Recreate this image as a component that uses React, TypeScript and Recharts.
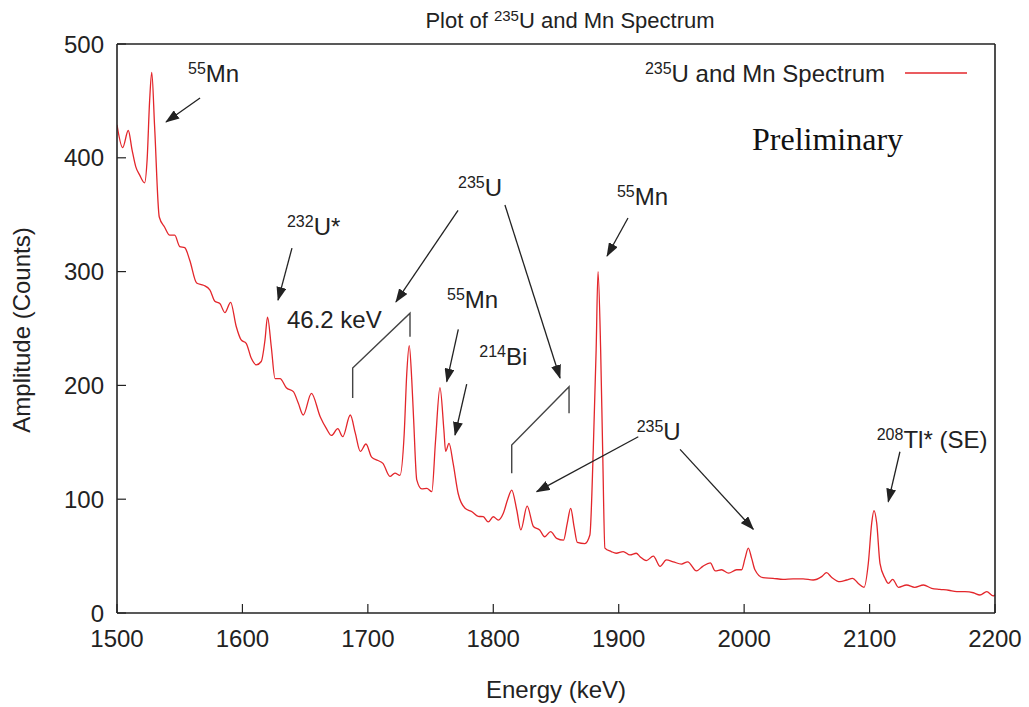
import React from "react";
import { LineChart, Line, XAxis, YAxis } from "recharts";

// spectrum readings (keV, counts)
const energy = [
  1500, 1504.5, 1509, 1512, 1515, 1518, 1522, 1524, 1526, 1527.7, 1530, 1533.7, 1538, 1542, 1546, 1550,
  1554, 1558, 1563.5, 1569, 1574, 1578, 1582, 1586, 1590.6, 1595, 1599, 1603, 1607, 1611, 1615, 1618,
  1620, 1623, 1626, 1630, 1635, 1640.6, 1644.5, 1648.5, 1655, 1662, 1667, 1671, 1676, 1680, 1686, 1690,
  1694, 1698.5, 1703, 1708, 1712, 1717.6, 1721.6, 1725.6, 1729, 1731, 1733, 1735, 1736.5, 1739, 1743, 1747,
  1751, 1754, 1757.5, 1760.6, 1762, 1764.7, 1768, 1772, 1777.5, 1783, 1788, 1792, 1796, 1800, 1804, 1808,
  1811.5, 1814.7, 1818.7, 1822, 1827, 1832, 1837, 1841, 1845.7, 1850.5, 1856, 1859, 1861.7, 1864.4, 1867, 1873,
  1877, 1879.7, 1882, 1883.5, 1885.6, 1887.2, 1889, 1894, 1898, 1903.6, 1909, 1914, 1917, 1922, 1927.6, 1933,
  1938, 1943.5, 1950, 1955, 1962, 1967, 1973, 1977, 1982, 1987.6, 1994, 1998, 2000.7, 2003.3, 2006, 2008.6,
  2015, 2023, 2031, 2039, 2047, 2055, 2061.8, 2065.7, 2069.7, 2076.4, 2081.7, 2086.5, 2091, 2095.6, 2099, 2101.7,
  2103.5, 2105.7, 2108.3, 2112.3, 2115, 2118.4, 2123, 2129.5, 2136, 2143, 2149.5, 2156, 2163, 2169.5, 2176, 2182.7,
  2188, 2193.4, 2198.6, 2200,
];
const counts = [
  429, 409, 424, 407, 392, 385, 378, 398, 450, 475, 427, 348, 339, 332, 332, 322,
  321, 310, 290, 288, 284, 274, 272, 264, 273, 252, 240, 237, 224, 218, 221, 240,
  260, 234, 206, 206, 198, 194.5, 184.5, 174, 193, 172.5, 162, 156, 162, 155, 174, 158,
  142, 148.5, 137, 134, 131.5, 120, 123, 121, 158, 210, 235, 205, 170, 117, 109, 109.5,
  106.6, 152, 198, 161, 142, 149, 131.5, 105, 92, 89, 85, 84.6, 80, 84.6, 81.7, 87.6,
  100, 108, 90.5, 73, 94, 76, 73, 67, 71.5, 65.6, 64, 79, 92, 76, 62, 61,
  68.5, 143, 231, 300, 231, 143, 57, 54, 52.5, 54, 51, 52.5, 49.5, 46, 50, 41,
  46.6, 45, 43, 45, 37, 41, 44, 37, 38, 35, 38, 38, 48, 57, 48, 38,
  31, 30.5, 29.6, 30, 30, 29, 32, 35.4, 31.4, 27.5, 29, 30.5, 26, 22.6, 43.7, 79,
  90, 79, 43.7, 30.5, 26, 29.6, 22.6, 24.6, 22.6, 24.6, 21.7, 20.8, 20, 18.7, 18.7, 17.8,
  15.8, 18.7, 15, 16,
];

const xTicks = [1500, 1600, 1700, 1800, 1900, 2000, 2100, 2200];
const yTicks = [0, 100, 200, 300, 400, 500];

// annotation labels: superscript, text, anchor in data coords (left edge, baseline)
const labels = [
  { sup: "55", text: "Mn", e: 1556.6, c: 466.6 },
  { sup: "232", text: "U*", e: 1635.5, c: 332.2 },
  { sup: "", text: "46.2 keV", e: 1635.5, c: 250.4 },
  { sup: "235", text: "U", e: 1771.9, c: 366.4 },
  { sup: "55", text: "Mn", e: 1763.1, c: 268 },
  { sup: "214", text: "Bi", e: 1788.8, c: 217.9 },
  { sup: "55", text: "Mn", e: 1898.6, c: 358.5 },
  { sup: "235", text: "U", e: 1914.3, c: 152 },
  { sup: "208", text: "Tl* (SE)", e: 2105.7, c: 144.7 },
];

const arrows = [
  [1566.2, 452.6, 1539.1, 431.5],
  [1639.5, 320.7, 1628.4, 275.0],
  [1771.9, 353.9, 1722.4, 273.3],
  [1809.3, 358.5, 1853.2, 206.5],
  [1772.1, 249.3, 1762.9, 203.3],
  [1778.8, 201.2, 1769.5, 156.4],
  [1907.4, 347.1, 1890.7, 313.7],
  [1915.6, 154.9, 1834.6, 106.6],
  [1948.9, 143.8, 2007.3, 73.6],
  [2124.2, 141.7, 2114.9, 97.8],
];

const brackets = [
  [[1687.9, 188.9], [1687.9, 215.3], [1733.6, 263.4], [1733.6, 242.8]],
  [[1814.7, 122.8], [1814.7, 147.6], [1860.4, 198.9], [1860.4, 175.5]],
];

const W = 1029;
const H = 707;
const plot = { left: 117, top: 44, right: 995, bottom: 613 };
const FONT = "'Liberation Sans', Arial, Helvetica, sans-serif";
const INK = "#222";
const RED = "#e3262b";

const px = (e: number) => plot.left + ((e - 1500) / 700) * (plot.right - plot.left);
const py = (c: number) => plot.bottom - (c / 500) * (plot.bottom - plot.top);

const data = energy.map((e, i) => ({ energy: e, counts: counts[i] }));

function Overlay() {
  return (
    <svg width={W} height={H} style={{ position: "absolute", left: 0, top: 0, pointerEvents: "none" }}>
      <defs>
        <marker id="ah" markerWidth="14" markerHeight="10" refX="13" refY="5" orient="auto" markerUnits="userSpaceOnUse">
          <path d="M0,0 L14,5 L0,10 z" fill={INK} />
        </marker>
      </defs>

      <text x={570} y={28} textAnchor="middle" fontFamily={FONT} fontSize={22} fill={INK}>
        Plot of <tspan fontSize={15} dy={-7}>235</tspan>
        <tspan dy={7}>U and Mn Spectrum</tspan>
      </text>

      {/* legend */}
      <text x={885} y={82} textAnchor="end" fontFamily={FONT} fontSize={24} fill={INK}>
        <tspan fontSize={16} dy={-8}>235</tspan>
        <tspan dy={8}>U and Mn Spectrum</tspan>
      </text>
      <line x1={905} x2={967} y1={73} y2={73} stroke={RED} strokeWidth={1.4} />

      <text x={752} y={150} fontFamily="'Liberation Serif', 'Times New Roman', serif" fontSize={32} fill="#111">
        Preliminary
      </text>

      {labels.map((l, i) => (
        <text key={i} x={px(l.e)} y={py(l.c)} fontFamily={FONT} fontSize={24} fill={INK}>
          {l.sup ? (
            <>
              <tspan fontSize={16} dy={-8}>{l.sup}</tspan>
              <tspan dy={8}>{l.text}</tspan>
            </>
          ) : (
            l.text
          )}
        </text>
      ))}

      {arrows.map((a, i) => (
        <line key={i} x1={px(a[0])} y1={py(a[1])} x2={px(a[2])} y2={py(a[3])} stroke={INK} strokeWidth={1.3} markerEnd="url(#ah)" />
      ))}

      {brackets.map((b, i) => (
        <polyline key={i} points={b.map((p) => `${px(p[0])},${py(p[1])}`).join(" ")} fill="none" stroke="#444" strokeWidth={1.4} />
      ))}

      <text x={556} y={698} textAnchor="middle" fontFamily={FONT} fontSize={24} fill={INK}>
        Energy (keV)
      </text>
      <text
        x={0}
        y={0}
        transform="translate(30,330) rotate(-90)"
        textAnchor="middle"
        fontFamily={FONT}
        fontSize={24}
        fill={INK}
      >
        Amplitude (Counts)
      </text>
    </svg>
  );
}

export default function App() {
  const tickStyle = { fontSize: 24, fill: INK, fontFamily: FONT };
  const axisLine = { stroke: INK, strokeWidth: 1.6 };
  return (
    <div style={{ position: "absolute", left: 0, top: 0, width: W, height: H, background: "#fff" }}>
      <LineChart width={W} height={H} data={data} margin={{ top: 43, right: 33, bottom: 0, left: 0 }}>
        <XAxis
          dataKey="energy"
          type="number"
          domain={[1500, 2200]}
          ticks={xTicks}
          height={94}
          tickSize={-9}
          tickMargin={26}
          tick={tickStyle}
          axisLine={axisLine}
          tickLine={{ stroke: INK, strokeWidth: 1.2 }}
          allowDataOverflow
        />
        <XAxis
          xAxisId="top"
          orientation="top"
          dataKey="energy"
          type="number"
          domain={[1500, 2200]}
          ticks={xTicks}
          height={1}
          tickSize={-9}
          tick={false}
          axisLine={axisLine}
          tickLine={{ stroke: INK, strokeWidth: 1.2 }}
        />
        <YAxis
          type="number"
          domain={[0, 500]}
          ticks={yTicks}
          width={117}
          tickSize={-9}
          tickMargin={22}
          tick={tickStyle}
          axisLine={axisLine}
          tickLine={{ stroke: INK, strokeWidth: 1.2 }}
        />
        <YAxis
          yAxisId="right"
          orientation="right"
          type="number"
          domain={[0, 500]}
          ticks={yTicks}
          width={1}
          tickSize={-9}
          tick={false}
          axisLine={axisLine}
          tickLine={{ stroke: INK, strokeWidth: 1.2 }}
        />
        <Line
          dataKey="counts"
          type="monotone"
          stroke={RED}
          strokeWidth={1.3}
          dot={false}
          isAnimationActive={false}
        />
      </LineChart>
      <Overlay />
    </div>
  );
}
